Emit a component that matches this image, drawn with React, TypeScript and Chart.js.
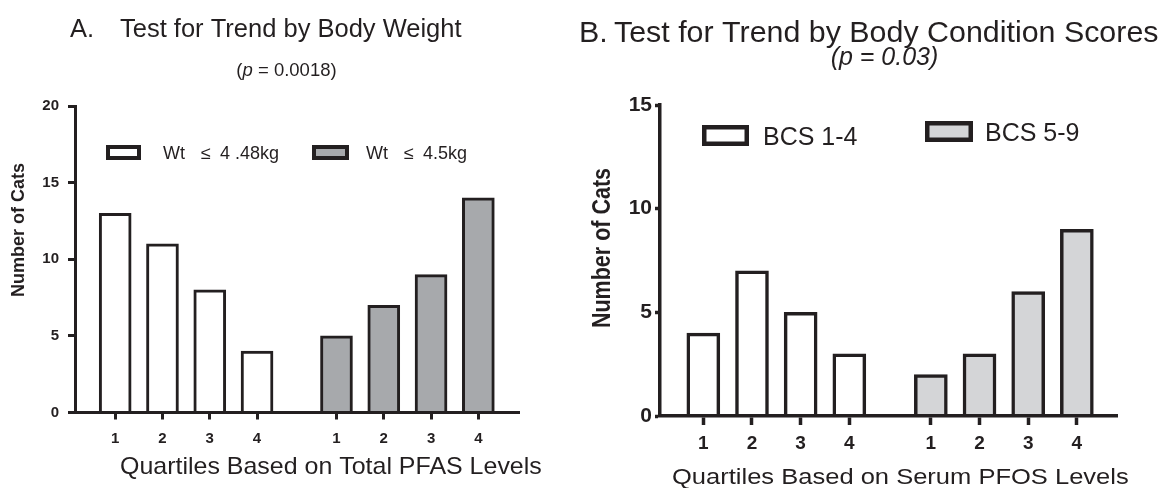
import React, { useEffect, useRef } from 'react';
import { Chart, registerables } from 'chart.js';

Chart.register(...registerables);

// ---------- data ----------
const QUARTILES = ['1', '2', '3', '4'];
const WT_LOW = [13, 11, 8, 4];      // Wt ≤ 4.48kg
const WT_HIGH = [5, 7, 9, 14];      // Wt ≤ 4.5kg
const BCS_LOW = [4, 7, 5, 3];       // BCS 1-4
const BCS_HIGH = [2, 3, 6, 9];      // BCS 5-9
const A_Y_TICKS = [0, 5, 10, 15, 20];
const B_Y_TICKS = [0, 5, 10, 15];
const A_LEGEND = ['Wt \u2264 4 .48kg', 'Wt  \u2264 4.5kg'];
const B_LEGEND = ['BCS 1-4', 'BCS 5-9'];
const A_TITLE = 'Test for Trend by Body Weight';
const B_TITLE = 'Test for Trend by Body Condition Scores';
const A_P = '0.0018';
const B_P = '0.03';
const A_XTITLE = 'Quartiles Based on Total PFAS Levels';
const B_XTITLE = 'Quartiles Based on Serum PFOS Levels';
const Y_TITLE = 'Number of Cats';

// ---------- style ----------
const INK = '#231f20';
const FONT = "'Liberation Sans', Arial, Helvetica, sans-serif";
const GRAY_A = '#a7a9ac';
const GRAY_B = '#d4d5d7';

type Piece = { t: string; x: number; italic?: boolean };
type TextItem = {
  pieces?: Piece[];
  t?: string;
  x: number;
  y: number;
  size: number;
  bold?: boolean;
  italic?: boolean;
  align?: CanvasTextAlign;
  rotate?: boolean;
  sx?: number;
  sy?: number;
};
type Box = { x: number; y: number; w: number; h: number; fill: string; lw: number };

type Spec = {
  first: number[];
  second: number[];
  fills: string[];
  legend: string[];
  gap: number;
  xMin: number;
  xMax: number;
  yMax: number;
  yTicks: number[];
  yAxisW: number;
  xAxisH: number;
  padTop: number;
  padRight: number;
  barW: number;
  barBorder: number;
  axisW: number;
  yTickLen: number;
  yTickPad: number;
  yTickSize: number;
  xTickLen: number;
  xTickPad: number;
  xTickSize: number;
  texts: TextItem[];
  boxes: Box[];
};

function drawText(ctx: CanvasRenderingContext2D, it: TextItem) {
  ctx.save();
  ctx.fillStyle = INK;
  ctx.textBaseline = it.rotate ? 'middle' : 'alphabetic';
  ctx.translate(it.x, it.y);
  if (it.rotate) ctx.rotate(-Math.PI / 2);
  ctx.scale(it.sx || 1, it.sy || 1);
  const font = (italic?: boolean) =>
    `${italic ? 'italic ' : ''}${it.bold ? 'bold ' : ''}${it.size}px ${FONT}`;
  if (it.pieces) {
    ctx.textAlign = 'left';
    let total = 0;
    const widths = it.pieces.map((p) => {
      ctx.font = font(p.italic ?? it.italic);
      const w = ctx.measureText(p.t).width;
      total += w;
      return w;
    });
    let cx = it.align === 'center' ? -total / 2 : 0;
    it.pieces.forEach((p, i) => {
      ctx.font = font(p.italic ?? it.italic);
      ctx.fillText(p.t, cx + (p.x || 0), 0);
      cx += widths[i];
    });
  } else {
    ctx.font = font(it.italic);
    ctx.textAlign = it.align || 'left';
    ctx.fillText(it.t || '', 0, 0);
  }
  ctx.restore();
}

function buildChart(canvas: HTMLCanvasElement, p: Spec) {
  const g1 = p.first.map((v, i) => ({ x: i + 1, y: v }));
  const g2 = p.second.map((v, i) => ({ x: QUARTILES.length + p.gap + i, y: v }));
  const tickPos = [...g1, ...g2].map((d) => d.x);
  const tickLabels = [...QUARTILES, ...QUARTILES];
  const tickFont = (size: number) => ({ family: FONT, size, weight: 'bold' as const });

  const overlay = {
    id: 'overlay',
    afterDraw(chart: Chart) {
      const ctx = chart.ctx;
      p.boxes.forEach((b) => {
        ctx.save();
        ctx.fillStyle = b.fill;
        ctx.fillRect(b.x, b.y, b.w, b.h);
        ctx.strokeStyle = INK;
        ctx.lineWidth = b.lw;
        ctx.strokeRect(b.x + b.lw / 2, b.y + b.lw / 2, b.w - b.lw, b.h - b.lw);
        ctx.restore();
      });
      p.texts.forEach((t) => drawText(ctx, t));
    },
  };

  return new Chart(canvas, {
    type: 'bar',
    data: {
      datasets: [
        {
          label: p.legend[0],
          data: g1,
          backgroundColor: p.fills[0],
          borderColor: INK,
          borderWidth: p.barBorder,
          borderSkipped: 'bottom',
          barThickness: p.barW,
          grouped: false,
        } as any,
        {
          label: p.legend[1],
          data: g2,
          backgroundColor: p.fills[1],
          borderColor: INK,
          borderWidth: p.barBorder,
          borderSkipped: 'bottom',
          barThickness: p.barW,
          grouped: false,
        } as any,
      ],
    },
    options: {
      responsive: false,
      animation: false,
      devicePixelRatio: 1,
      layout: { padding: { left: 0, right: p.padRight, top: p.padTop, bottom: 0 } },
      plugins: {
        legend: { display: false },
        tooltip: { enabled: false },
        title: { display: false },
      },
      scales: {
        x: {
          type: 'linear',
          min: p.xMin,
          max: p.xMax,
          offset: false,
          afterBuildTicks: (s: any) => {
            s.ticks = tickPos.map((v) => ({ value: v }));
          },
          afterFit: (s: any) => {
            s.height = p.xAxisH;
          },
          ticks: {
            autoSkip: false,
            maxRotation: 0,
            color: INK,
            font: tickFont(p.xTickSize),
            padding: p.xTickPad,
            callback: (_v: any, i: number) => tickLabels[i],
          },
          grid: {
            offset: false,
            drawOnChartArea: false,
            drawTicks: true,
            tickLength: p.xTickLen,
            tickWidth: p.axisW,
            tickColor: INK,
          },
          border: { display: true, width: p.axisW, color: INK, z: 1 },
        } as any,
        y: {
          type: 'linear',
          min: 0,
          max: p.yMax,
          afterBuildTicks: (s: any) => {
            s.ticks = p.yTicks.map((v) => ({ value: v }));
          },
          afterFit: (s: any) => {
            s.width = p.yAxisW;
          },
          ticks: {
            color: INK,
            font: tickFont(p.yTickSize),
            padding: p.yTickPad,
          },
          grid: {
            drawOnChartArea: false,
            drawTicks: true,
            tickLength: p.yTickLen,
            tickWidth: p.axisW,
            tickColor: INK,
          },
          border: { display: true, width: p.axisW, color: INK, z: 1 },
        } as any,
      },
    },
    plugins: [overlay],
  });
}

// ---------- panel A (canvas at page x 0) ----------
const specA: Spec = {
  first: WT_LOW,
  second: WT_HIGH,
  fills: ['#ffffff', GRAY_A],
  legend: A_LEGEND,
  gap: 1.68,
  xMin: 0.15,
  xMax: 9.54,
  yMax: 20,
  yTicks: A_Y_TICKS,
  yAxisW: 75,
  xAxisH: 75.5,
  padTop: 106,
  padRight: 41,
  barW: 32,
  barBorder: 3,
  axisW: 3,
  yTickLen: 7,
  yTickPad: 9,
  yTickSize: 15,
  xTickLen: 7,
  xTickPad: 10,
  xTickSize: 15,
  boxes: [
    { x: 106, y: 145, w: 35, h: 15, fill: '#ffffff', lw: 4 },
    { x: 312, y: 145, w: 37, h: 15, fill: GRAY_A, lw: 4 },
  ],
  texts: [
    { t: 'A.', x: 70, y: 37, size: 25.5 },
    { t: A_TITLE, x: 120, y: 37, size: 25.5 },
    {
      pieces: [{ t: '(', x: 0 }, { t: 'p', x: 0, italic: true }, { t: ' = ' + A_P + ')', x: 0 }],
      x: 286.5,
      y: 76,
      size: 18.5,
      align: 'center',
    },
    { t: 'Wt', x: 163, y: 159, size: 18 },
    { t: '\u2264', x: 201, y: 159, size: 18 },
    { t: '4 .48kg', x: 220, y: 159, size: 18 },
    { t: 'Wt', x: 366, y: 159, size: 18 },
    { t: '\u2264', x: 404, y: 159, size: 18 },
    { t: '4.5kg', x: 423, y: 159, size: 18 },
    { t: A_XTITLE, x: 120, y: 474, size: 24, sx: 1.04 },
    { t: Y_TITLE, x: 19, y: 230, size: 18, bold: true, align: 'center', rotate: true },
  ],
};

// ---------- panel B (canvas at page x 560) ----------
const BX = 560;
const specB: Spec = {
  first: BCS_LOW,
  second: BCS_HIGH,
  fills: ['#ffffff', GRAY_B],
  legend: B_LEGEND,
  gap: 1.675,
  xMin: 0.11,
  xMax: 9.51,
  yMax: 15,
  yTicks: B_Y_TICKS,
  yAxisW: 100,
  xAxisH: 72,
  padTop: 105,
  padRight: 50.5,
  barW: 33,
  barBorder: 3.5,
  axisW: 3.5,
  yTickLen: 5,
  yTickPad: 3,
  yTickSize: 21,
  xTickLen: 9,
  xTickPad: 7,
  xTickSize: 19,
  boxes: [
    { x: 702 - BX, y: 125, w: 47, h: 21, fill: '#ffffff', lw: 4.5 },
    { x: 925 - BX, y: 121, w: 48, h: 21, fill: GRAY_B, lw: 4.5 },
  ],
  texts: [
    { t: 'B.', x: 579 - BX, y: 42, size: 30.4 },
    { t: B_TITLE, x: 614 - BX, y: 42, size: 30.4 },
    {
      pieces: [{ t: '(', x: 0 }, { t: 'p', x: 0 }, { t: ' = ' + B_P + ')', x: 0 }],
      x: 884.5 - BX,
      y: 65,
      size: 25,
      italic: true,
      align: 'center',
    },
    { t: B_LEGEND[0], x: 763 - BX, y: 145, size: 25 },
    { t: B_LEGEND[1], x: 985 - BX, y: 141, size: 25 },
    { t: B_XTITLE, x: 672 - BX, y: 484, size: 22, sx: 1.16 },
    { t: Y_TITLE, x: 603 - BX, y: 248, size: 21.5, bold: true, align: 'center', rotate: true, sy: 1.2 },
  ],
};

function Panel({ spec, left, width }: { spec: Spec; left: number; width: number }) {
  const ref = useRef<HTMLCanvasElement | null>(null);
  useEffect(() => {
    if (!ref.current) return;
    const chart = buildChart(ref.current, spec);
    return () => chart.destroy();
  }, [spec]);
  return (
    <canvas
      ref={ref}
      width={width}
      height={488}
      style={{ position: 'absolute', left, top: 0, width, height: 488 }}
    />
  );
}

export default function App() {
  return (
    <div
      style={{
        position: 'fixed',
        left: 0,
        top: 0,
        width: 1168,
        height: 488,
        background: '#ffffff',
        overflow: 'hidden',
      }}
    >
      <Panel spec={specA} left={0} width={560} />
      <Panel spec={specB} left={BX} width={608} />
    </div>
  );
}
